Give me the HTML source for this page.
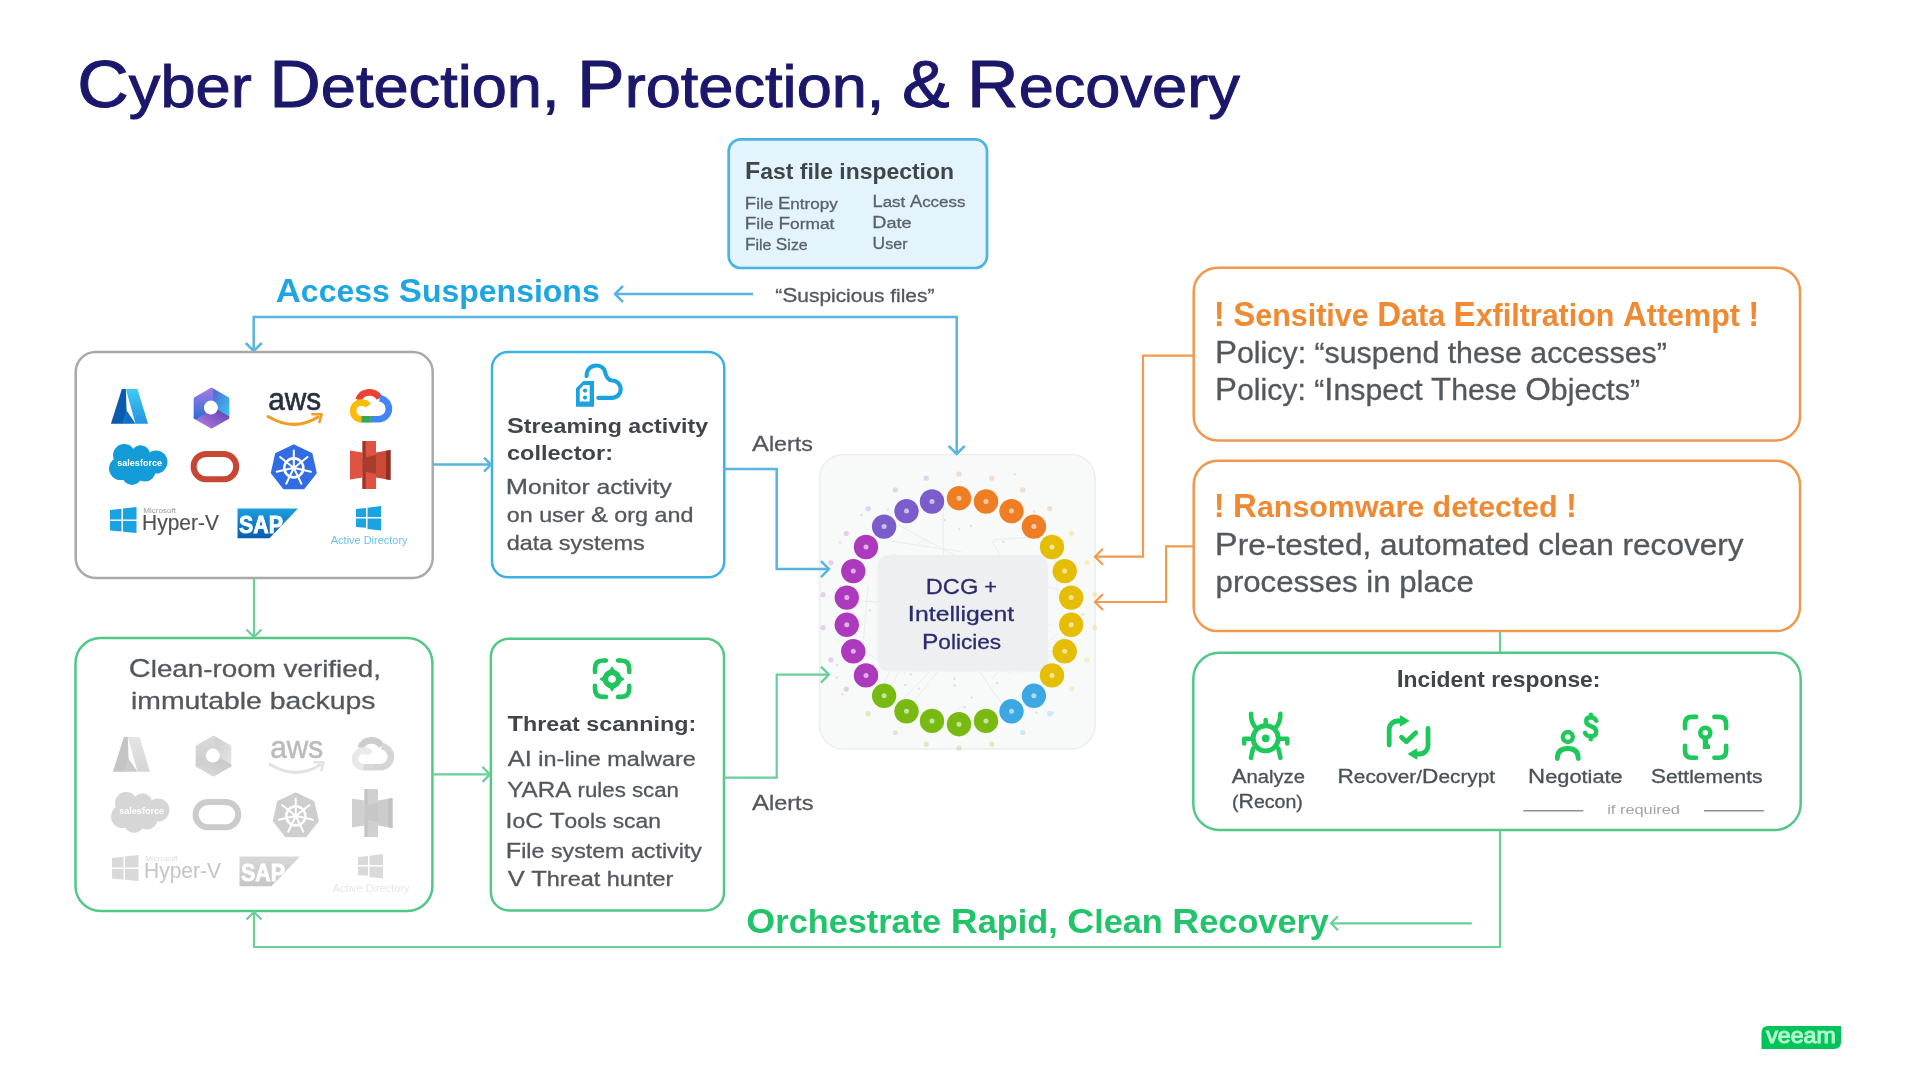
<!DOCTYPE html>
<html><head><meta charset="utf-8"><title>Cyber Detection, Protection, &amp; Recovery</title>
<style>html,body{margin:0;padding:0;background:#ffffff;width:1920px;height:1080px;overflow:hidden}svg{display:block;will-change:transform}text{font-family:"Liberation Sans",sans-serif}</style></head>
<body><svg width="1920" height="1080" viewBox="0 0 1920 1080">
<defs>
<linearGradient id="gAz1" x1="0" y1="0" x2="0" y2="1"><stop offset="0" stop-color="#3ccbf4"/><stop offset="1" stop-color="#2892df"/></linearGradient>
<linearGradient id="gM1" x1="0" y1="0" x2="1" y2="1"><stop offset="0" stop-color="#4a63d2"/><stop offset="1" stop-color="#3fc4f0"/></linearGradient>
<linearGradient id="gM2" x1="1" y1="0" x2="0" y2="1"><stop offset="0" stop-color="#5a3fb0"/><stop offset="1" stop-color="#b57be6"/></linearGradient>
<linearGradient id="gM3" x1="0" y1="0" x2="0" y2="1"><stop offset="0" stop-color="#a27ae6"/><stop offset="1" stop-color="#2f6fd8"/></linearGradient>
<linearGradient id="gSAP" x1="0" y1="0" x2="0" y2="1"><stop offset="0" stop-color="#1aa0e2"/><stop offset="1" stop-color="#0b5cae"/></linearGradient>
<filter id="fGray" color-interpolation-filters="sRGB"><feColorMatrix type="saturate" values="0"/></filter>
</defs>
<rect width="1920" height="1080" fill="#ffffff"/>
<text x="77.30" y="107" font-size="66.86" fill="#1b176b" stroke="#1b176b" stroke-width="1.0" textLength="1162.50" lengthAdjust="spacingAndGlyphs"><tspan font-size="66.86">C</tspan><tspan font-size="59.17">yber </tspan><tspan font-size="66.86">D</tspan><tspan font-size="59.17">etection, </tspan><tspan font-size="66.86">P</tspan><tspan font-size="59.17">rotection, </tspan><tspan font-size="66.86">&amp;</tspan><tspan font-size="59.17"> </tspan><tspan font-size="66.86">R</tspan><tspan font-size="59.17">ecovery</tspan></text>
<rect x="819.5" y="454.5" width="275.5" height="294.5" rx="24" fill="#f8f9f9" stroke="#eceeee" stroke-width="1.5"/>
<path d="M913.2,702.7 L963.5,638.1 M896.8,596.9 L888.3,612.4 M1021.8,626.3 L987.9,614.6 M898.5,642.3 L917.0,606.4 M891.1,541.2 L961.1,551.6 M1073.5,594.0 L986.9,570.9 M1008.4,674.2 L1058.2,633.2 M1001.8,703.3 L975.3,666.1 M898.0,592.3 L923.1,630.2 M924.9,538.3 L916.8,545.0 M852.2,643.6 L887.7,665.9 M962.5,705.3 L948.6,718.2 M943.1,488.5 L943.4,583.5 M898.2,645.6 L890.2,614.8 M1065.4,638.0 L1024.9,651.5 M1033.6,537.0 L993.8,539.8 M858.5,556.1 L854.6,564.2 M895.9,621.6 L869.6,599.3 M890.7,520.7 L970.6,564.1 M912.7,651.6 L898.4,637.8 M990.4,666.8 L1049.4,645.9 M1017.7,673.2 L1059.3,648.8 M1042.7,657.6 L1058.1,654.9 M991.9,540.4 L1013.6,582.8 M881.8,706.0 L924.6,618.0 M992.6,678.4 L1014.6,651.3 M907.9,579.2 L897.7,603.0 M875.9,700.5 L891.0,668.7 M855.5,601.1 L934.8,603.5 M1053.3,542.2 L1058.0,598.5 M907.0,653.0 L904.4,674.3 M1027.0,639.2 L992.5,597.5 M926.8,661.9 L967.3,645.3 M1008.5,647.9 L1058.3,652.2 M901.4,561.0 L904.5,606.6 M883.3,698.0 L954.4,730.4 M894.9,625.1 L929.7,618.5 M896.4,706.3 L953.3,646.9 M1052.3,624.8 L979.0,639.5 M868.1,585.9 L860.4,675.8" stroke="#e9ecec" stroke-width="0.9" fill="none"/>
<circle cx="1031.2" cy="527.5" r="1.2" fill="#dfe3e5"/><circle cx="954.3" cy="678.7" r="1.2" fill="#dfe3e5"/><circle cx="1018.9" cy="715.6" r="1.2" fill="#dfe3e5"/><circle cx="840.3" cy="586.5" r="1.2" fill="#dfe3e5"/><circle cx="935.5" cy="654.2" r="1.2" fill="#dfe3e5"/><circle cx="1014.8" cy="474.1" r="1.2" fill="#dfe3e5"/><circle cx="1034.0" cy="511.5" r="1.2" fill="#dfe3e5"/><circle cx="1007.4" cy="505.6" r="1.2" fill="#dfe3e5"/><circle cx="971.7" cy="697.6" r="1.2" fill="#dfe3e5"/><circle cx="944.4" cy="629.9" r="1.2" fill="#dfe3e5"/><circle cx="1014.5" cy="621.0" r="1.2" fill="#dfe3e5"/><circle cx="952.7" cy="721.0" r="1.2" fill="#dfe3e5"/><circle cx="1034.2" cy="590.1" r="1.2" fill="#dfe3e5"/><circle cx="1023.7" cy="592.4" r="1.2" fill="#dfe3e5"/><circle cx="968.1" cy="659.8" r="1.2" fill="#dfe3e5"/><circle cx="974.3" cy="655.2" r="1.2" fill="#dfe3e5"/><circle cx="861.5" cy="514.9" r="1.2" fill="#dfe3e5"/><circle cx="1003.3" cy="541.8" r="1.2" fill="#dfe3e5"/><circle cx="888.0" cy="509.6" r="1.2" fill="#dfe3e5"/><circle cx="1050.2" cy="665.0" r="1.2" fill="#dfe3e5"/><circle cx="1061.7" cy="545.8" r="1.2" fill="#dfe3e5"/><circle cx="959.1" cy="529.1" r="1.2" fill="#dfe3e5"/><circle cx="1012.2" cy="721.6" r="1.2" fill="#dfe3e5"/><circle cx="897.5" cy="719.0" r="1.2" fill="#dfe3e5"/><circle cx="1029.3" cy="598.5" r="1.2" fill="#dfe3e5"/><circle cx="842.5" cy="694.3" r="1.2" fill="#dfe3e5"/><circle cx="952.4" cy="569.6" r="1.2" fill="#dfe3e5"/><circle cx="986.7" cy="639.6" r="1.2" fill="#dfe3e5"/><circle cx="1062.2" cy="540.9" r="1.2" fill="#dfe3e5"/><circle cx="1036.4" cy="712.5" r="1.2" fill="#dfe3e5"/><circle cx="1063.6" cy="598.2" r="1.2" fill="#dfe3e5"/><circle cx="905.1" cy="684.9" r="1.2" fill="#dfe3e5"/><circle cx="973.9" cy="627.2" r="1.2" fill="#dfe3e5"/><circle cx="1061.7" cy="592.2" r="1.2" fill="#dfe3e5"/><circle cx="837.0" cy="665.1" r="1.2" fill="#dfe3e5"/><circle cx="980.8" cy="569.1" r="1.2" fill="#dfe3e5"/><circle cx="958.3" cy="669.3" r="1.2" fill="#dfe3e5"/><circle cx="964.7" cy="707.3" r="1.2" fill="#dfe3e5"/><circle cx="954.6" cy="685.5" r="1.2" fill="#dfe3e5"/><circle cx="1053.0" cy="712.7" r="1.2" fill="#dfe3e5"/><circle cx="910.7" cy="674.4" r="1.2" fill="#dfe3e5"/><circle cx="839.9" cy="542.4" r="1.2" fill="#dfe3e5"/><circle cx="836.7" cy="677.8" r="1.2" fill="#dfe3e5"/><circle cx="869.9" cy="610.3" r="1.2" fill="#dfe3e5"/><circle cx="936.8" cy="607.9" r="1.2" fill="#dfe3e5"/><circle cx="918.3" cy="627.3" r="1.2" fill="#dfe3e5"/><circle cx="1082.9" cy="614.3" r="1.2" fill="#dfe3e5"/><circle cx="997.2" cy="683.2" r="1.2" fill="#dfe3e5"/><circle cx="944.7" cy="520.0" r="1.2" fill="#dfe3e5"/><circle cx="918.8" cy="688.8" r="1.2" fill="#dfe3e5"/><circle cx="844.4" cy="569.6" r="1.2" fill="#dfe3e5"/><circle cx="1032.0" cy="668.6" r="1.2" fill="#dfe3e5"/><circle cx="959.5" cy="667.2" r="1.2" fill="#dfe3e5"/><circle cx="971.0" cy="526.0" r="1.2" fill="#dfe3e5"/><circle cx="849.0" cy="566.3" r="1.2" fill="#dfe3e5"/><circle cx="1025.2" cy="570.6" r="1.2" fill="#dfe3e5"/><circle cx="893.8" cy="555.5" r="1.2" fill="#dfe3e5"/><circle cx="849.3" cy="602.8" r="1.2" fill="#dfe3e5"/>
<rect x="877.5" y="555" width="170.5" height="116.5" rx="11" fill="#eeeff1"/>
<circle cx="959.0" cy="474.2" r="2.6" fill="#ee7d24" opacity="0.22"/>
<circle cx="959.0" cy="498.2" r="12.2" fill="#ee7d24"/>
<circle cx="959.0" cy="498.2" r="2.5" fill="#fff" opacity="0.6"/>
<circle cx="991.8" cy="478.2" r="2.6" fill="#ee7d24" opacity="0.22"/>
<circle cx="986.0" cy="501.5" r="12.2" fill="#ee7d24"/>
<circle cx="986.0" cy="501.5" r="2.5" fill="#fff" opacity="0.6"/>
<circle cx="1022.7" cy="489.9" r="2.6" fill="#ee7d24" opacity="0.22"/>
<circle cx="1011.5" cy="511.1" r="12.2" fill="#ee7d24"/>
<circle cx="1011.5" cy="511.1" r="2.5" fill="#fff" opacity="0.6"/>
<circle cx="1049.8" cy="508.7" r="2.6" fill="#ee7d24" opacity="0.22"/>
<circle cx="1033.9" cy="526.6" r="12.2" fill="#ee7d24"/>
<circle cx="1033.9" cy="526.6" r="2.5" fill="#fff" opacity="0.6"/>
<circle cx="1071.7" cy="533.4" r="2.6" fill="#e6bd05" opacity="0.22"/>
<circle cx="1052.0" cy="547.0" r="12.2" fill="#e6bd05"/>
<circle cx="1052.0" cy="547.0" r="2.5" fill="#fff" opacity="0.6"/>
<circle cx="1087.1" cy="562.6" r="2.6" fill="#e6bd05" opacity="0.22"/>
<circle cx="1064.7" cy="571.1" r="12.2" fill="#e6bd05"/>
<circle cx="1064.7" cy="571.1" r="2.5" fill="#fff" opacity="0.6"/>
<circle cx="1095.0" cy="594.7" r="2.6" fill="#e6bd05" opacity="0.22"/>
<circle cx="1071.2" cy="597.6" r="12.2" fill="#e6bd05"/>
<circle cx="1071.2" cy="597.6" r="2.5" fill="#fff" opacity="0.6"/>
<circle cx="1095.0" cy="627.7" r="2.6" fill="#e6bd05" opacity="0.22"/>
<circle cx="1071.2" cy="624.8" r="12.2" fill="#e6bd05"/>
<circle cx="1071.2" cy="624.8" r="2.5" fill="#fff" opacity="0.6"/>
<circle cx="1087.1" cy="659.8" r="2.6" fill="#e6bd05" opacity="0.22"/>
<circle cx="1064.7" cy="651.3" r="12.2" fill="#e6bd05"/>
<circle cx="1064.7" cy="651.3" r="2.5" fill="#fff" opacity="0.6"/>
<circle cx="1071.7" cy="689.0" r="2.6" fill="#e6bd05" opacity="0.22"/>
<circle cx="1052.0" cy="675.4" r="12.2" fill="#e6bd05"/>
<circle cx="1052.0" cy="675.4" r="2.5" fill="#fff" opacity="0.6"/>
<circle cx="1049.8" cy="713.7" r="2.6" fill="#3ba8e3" opacity="0.22"/>
<circle cx="1033.9" cy="695.8" r="12.2" fill="#3ba8e3"/>
<circle cx="1033.9" cy="695.8" r="2.5" fill="#fff" opacity="0.6"/>
<circle cx="1022.7" cy="732.5" r="2.6" fill="#3ba8e3" opacity="0.22"/>
<circle cx="1011.5" cy="711.3" r="12.2" fill="#3ba8e3"/>
<circle cx="1011.5" cy="711.3" r="2.5" fill="#fff" opacity="0.6"/>
<circle cx="991.8" cy="744.2" r="2.6" fill="#78ba12" opacity="0.22"/>
<circle cx="986.0" cy="720.9" r="12.2" fill="#78ba12"/>
<circle cx="986.0" cy="720.9" r="2.5" fill="#fff" opacity="0.6"/>
<circle cx="959.0" cy="748.2" r="2.6" fill="#78ba12" opacity="0.22"/>
<circle cx="959.0" cy="724.2" r="12.2" fill="#78ba12"/>
<circle cx="959.0" cy="724.2" r="2.5" fill="#fff" opacity="0.6"/>
<circle cx="926.2" cy="744.2" r="2.6" fill="#78ba12" opacity="0.22"/>
<circle cx="932.0" cy="720.9" r="12.2" fill="#78ba12"/>
<circle cx="932.0" cy="720.9" r="2.5" fill="#fff" opacity="0.6"/>
<circle cx="895.3" cy="732.5" r="2.6" fill="#78ba12" opacity="0.22"/>
<circle cx="906.5" cy="711.3" r="12.2" fill="#78ba12"/>
<circle cx="906.5" cy="711.3" r="2.5" fill="#fff" opacity="0.6"/>
<circle cx="868.2" cy="713.7" r="2.6" fill="#78ba12" opacity="0.22"/>
<circle cx="884.1" cy="695.8" r="12.2" fill="#78ba12"/>
<circle cx="884.1" cy="695.8" r="2.5" fill="#fff" opacity="0.6"/>
<circle cx="846.3" cy="689.0" r="2.6" fill="#ad3abd" opacity="0.22"/>
<circle cx="866.0" cy="675.4" r="12.2" fill="#ad3abd"/>
<circle cx="866.0" cy="675.4" r="2.5" fill="#fff" opacity="0.6"/>
<circle cx="830.9" cy="659.8" r="2.6" fill="#ad3abd" opacity="0.22"/>
<circle cx="853.3" cy="651.3" r="12.2" fill="#ad3abd"/>
<circle cx="853.3" cy="651.3" r="2.5" fill="#fff" opacity="0.6"/>
<circle cx="823.0" cy="627.7" r="2.6" fill="#ad3abd" opacity="0.22"/>
<circle cx="846.8" cy="624.8" r="12.2" fill="#ad3abd"/>
<circle cx="846.8" cy="624.8" r="2.5" fill="#fff" opacity="0.6"/>
<circle cx="823.0" cy="594.7" r="2.6" fill="#ad3abd" opacity="0.22"/>
<circle cx="846.8" cy="597.6" r="12.2" fill="#ad3abd"/>
<circle cx="846.8" cy="597.6" r="2.5" fill="#fff" opacity="0.6"/>
<circle cx="830.9" cy="562.6" r="2.6" fill="#ad3abd" opacity="0.22"/>
<circle cx="853.3" cy="571.1" r="12.2" fill="#ad3abd"/>
<circle cx="853.3" cy="571.1" r="2.5" fill="#fff" opacity="0.6"/>
<circle cx="846.3" cy="533.4" r="2.6" fill="#ad3abd" opacity="0.22"/>
<circle cx="866.0" cy="547.0" r="12.2" fill="#ad3abd"/>
<circle cx="866.0" cy="547.0" r="2.5" fill="#fff" opacity="0.6"/>
<circle cx="868.2" cy="508.7" r="2.6" fill="#7a5ccb" opacity="0.22"/>
<circle cx="884.1" cy="526.6" r="12.2" fill="#7a5ccb"/>
<circle cx="884.1" cy="526.6" r="2.5" fill="#fff" opacity="0.6"/>
<circle cx="895.3" cy="489.9" r="2.6" fill="#7a5ccb" opacity="0.22"/>
<circle cx="906.5" cy="511.1" r="12.2" fill="#7a5ccb"/>
<circle cx="906.5" cy="511.1" r="2.5" fill="#fff" opacity="0.6"/>
<circle cx="926.2" cy="478.2" r="2.6" fill="#7a5ccb" opacity="0.22"/>
<circle cx="932.0" cy="501.5" r="12.2" fill="#7a5ccb"/>
<circle cx="932.0" cy="501.5" r="2.5" fill="#fff" opacity="0.6"/>
<text x="925.71" y="593.50" font-size="22.97" font-weight="400" fill="#2b2c6c" textLength="71.36" lengthAdjust="spacingAndGlyphs" stroke="#2b2c6c" stroke-width="0.3"><tspan font-size="22.97">DCG</tspan><tspan font-size="21.13"> +</tspan></text>
<text x="907.58" y="621.25" font-size="22.97" font-weight="400" fill="#2b2c6c" textLength="106.46" lengthAdjust="spacingAndGlyphs" stroke="#2b2c6c" stroke-width="0.3"><tspan font-size="22.97">I</tspan><tspan font-size="21.13">ntelligent</tspan></text>
<text x="921.93" y="649.00" font-size="22.97" font-weight="400" fill="#2b2c6c" textLength="79.19" lengthAdjust="spacingAndGlyphs" stroke="#2b2c6c" stroke-width="0.3"><tspan font-size="22.97">P</tspan><tspan font-size="21.13">olicies</tspan></text>
<rect x="728.7" y="139.3" width="258.3" height="128.7" rx="12" fill="#e3f4fc" stroke="#4ab5e2" stroke-width="2.7"/>
<text x="745.08" y="179.00" font-size="23.26" font-weight="700" fill="#3f454b" textLength="208.83" lengthAdjust="spacingAndGlyphs" ><tspan font-size="23.26">F</tspan><tspan font-size="21.40">ast file inspection</tspan></text>
<text x="744.82" y="209.10" font-size="16.86" font-weight="400" fill="#59626a" textLength="93.00" lengthAdjust="spacingAndGlyphs"  stroke="#59626a" stroke-width="0.3"><tspan font-size="16.86">F</tspan><tspan font-size="15.51">ile </tspan><tspan font-size="16.86">E</tspan><tspan font-size="15.51">ntropy</tspan></text>
<text x="744.79" y="229.40" font-size="16.86" font-weight="400" fill="#59626a" textLength="89.59" lengthAdjust="spacingAndGlyphs"  stroke="#59626a" stroke-width="0.3"><tspan font-size="16.86">F</tspan><tspan font-size="15.51">ile </tspan><tspan font-size="16.86">F</tspan><tspan font-size="15.51">ormat</tspan></text>
<text x="744.92" y="250.10" font-size="16.86" font-weight="400" fill="#59626a" textLength="62.77" lengthAdjust="spacingAndGlyphs"  stroke="#59626a" stroke-width="0.3"><tspan font-size="16.86">F</tspan><tspan font-size="15.51">ile </tspan><tspan font-size="16.86">S</tspan><tspan font-size="15.51">ize</tspan></text>
<text x="872.43" y="207.40" font-size="16.86" font-weight="400" fill="#59626a" textLength="92.97" lengthAdjust="spacingAndGlyphs"  stroke="#59626a" stroke-width="0.3"><tspan font-size="16.86">L</tspan><tspan font-size="15.51">ast </tspan><tspan font-size="16.86">A</tspan><tspan font-size="15.51">ccess</tspan></text>
<text x="872.33" y="228.10" font-size="16.86" font-weight="400" fill="#59626a" textLength="39.28" lengthAdjust="spacingAndGlyphs"  stroke="#59626a" stroke-width="0.3"><tspan font-size="16.86">D</tspan><tspan font-size="15.51">ate</tspan></text>
<text x="872.59" y="248.70" font-size="16.86" font-weight="400" fill="#59626a" textLength="34.98" lengthAdjust="spacingAndGlyphs"  stroke="#59626a" stroke-width="0.3"><tspan font-size="16.86">U</tspan><tspan font-size="15.51">ser</tspan></text>
<text x="775.20" y="302.00" font-size="20.35" font-weight="400" fill="#53585d" textLength="159.22" lengthAdjust="spacingAndGlyphs"  stroke="#53585d" stroke-width="0.3"><tspan font-size="18.72">“</tspan><tspan font-size="20.35">S</tspan><tspan font-size="18.72">uspicious files”</tspan></text>
<text x="275.73" y="301.60" font-size="34.01" font-weight="700" fill="#1fa6e2" textLength="323.99" lengthAdjust="spacingAndGlyphs" ><tspan font-size="34.01">A</tspan><tspan font-size="31.29">ccess </tspan><tspan font-size="34.01">S</tspan><tspan font-size="31.29">uspensions</tspan></text>
<polyline points="753.0,294.0 615.0,294.0" fill="none" stroke="#58b5e0" stroke-width="2.5"/>
<polyline points="623.0,286.0 615.0,294.0 623.0,302.0" fill="none" stroke="#58b5e0" stroke-width="2.5" stroke-linejoin="miter"/>
<polyline points="253.7,350.0 253.7,317.0 956.7,317.0 956.7,453.0" fill="none" stroke="#58b5e0" stroke-width="2.5"/>
<polyline points="245.7,343.0 253.7,351.0 261.7,343.0" fill="none" stroke="#58b5e0" stroke-width="2.5" stroke-linejoin="miter"/>
<polyline points="948.7,446.0 956.7,454.0 964.7,446.0" fill="none" stroke="#58b5e0" stroke-width="2.5" stroke-linejoin="miter"/>
<rect x="75.7" y="352.0" width="357.0" height="226.0" rx="20" fill="#fff" stroke="#a9a9a9" stroke-width="2.5"/>
<polygon points="125.8,389 137.5,389 148,423.8 135.5,423.8" fill="url(#gAz1)"/>
<polygon points="121.9,389 125.8,389 126.6,411 122.7,423.8 110.9,423.8" fill="#0a5aad"/>
<polygon points="126.6,410.5 135.5,423.8 121.8,423.8" fill="#0f6fc6"/>
<polygon points="211.5,408.1 211.5,389.5 227.6,398.8 227.6,417.4" fill="url(#gM1)" stroke="url(#gM1)" stroke-width="3.5" stroke-linejoin="round"/>
<polygon points="211.5,408.1 227.6,417.4 211.5,426.7 195.4,417.4" fill="url(#gM2)" stroke="url(#gM2)" stroke-width="3.5" stroke-linejoin="round"/>
<polygon points="211.5,408.1 195.4,417.4 195.4,398.8 211.5,389.5" fill="url(#gM3)" stroke="url(#gM3)" stroke-width="3.5" stroke-linejoin="round"/>
<circle cx="210.9" cy="407.6" r="7" fill="#fff"/>
<text x="268.21" y="409.70" font-size="32.20" font-weight="400" fill="#252f3e" textLength="52.99" lengthAdjust="spacingAndGlyphs" stroke="#252f3e" stroke-width="0.6">aws</text>
<path d="M268,416.5 Q294,432 318,417" fill="none" stroke="#f39c1f" stroke-width="3" stroke-linecap="round"/>
<path d="M312.5,414.3 L321.5,414.3 L319.5,422" fill="none" stroke="#f39c1f" stroke-width="2.6" stroke-linecap="round" stroke-linejoin="round"/>
<path d="M358.5,400 A11.7,11.7 0 0 1 379.6,398.2" fill="none" stroke="#ea4335" stroke-width="6.6"/>
<path d="M379.6,398.2 A10.6,10.6 0 0 1 379,419.3 L370.5,419.3" fill="none" stroke="#4285f4" stroke-width="6.6"/>
<path d="M370.8,419.3 L361,419.3" fill="none" stroke="#34a853" stroke-width="6.6"/>
<path d="M361.5,419.3 A8.4,8.4 0 0 1 361.5,402.5 Q366,402.5 368.3,405.6" fill="none" stroke="#fbbc05" stroke-width="6.6"/>
<circle cx="124.2" cy="455.3" r="11.2" fill="#139cd8"/>
<circle cx="140.6" cy="454.8" r="9.5" fill="#139cd8"/>
<circle cx="156" cy="462" r="11.5" fill="#139cd8"/>
<circle cx="120.5" cy="468.6" r="11.5" fill="#139cd8"/>
<circle cx="132" cy="475" r="10" fill="#139cd8"/>
<circle cx="145" cy="471" r="10.5" fill="#139cd8"/>
<circle cx="136" cy="464" r="12" fill="#139cd8"/>
<text x="117.28" y="466.20" font-size="9.59" font-weight="700" fill="#ffffff" textLength="44.76" lengthAdjust="spacingAndGlyphs" >salesforce</text>
<rect x="193.6" y="454" width="42.6" height="25.3" rx="12.6" fill="none" stroke="#c74634" stroke-width="6"/>
<polygon points="293.8,445.3 311.5,453.8 315.8,472.9 303.6,488.3 284.0,488.3 271.8,472.9 276.1,453.8" fill="#326ce5" stroke="#326ce5" stroke-width="2" stroke-linejoin="round"/>
<circle cx="293.8" cy="467.9" r="9.5" fill="none" stroke="#fff" stroke-width="2.6"/>
<path d="M293.8,465.9 L293.8,450.4 M295.4,466.7 L307.5,457.0 M295.7,468.3 L310.9,471.8 M294.7,469.7 L301.4,483.7 M292.9,469.7 L286.2,483.7 M291.9,468.3 L276.7,471.8 M292.2,466.7 L280.1,457.0" stroke="#fff" stroke-width="2" stroke-linecap="round"/>
<circle cx="293.8" cy="467.9" r="2.2" fill="#fff"/>
<polygon points="350,450.5 362.5,452.5 362.5,477.5 350,479.5" fill="#e05243"/>
<rect x="362.5" y="441" width="13.5" height="48" fill="#e05243"/>
<rect x="362.5" y="441" width="3.2" height="48" fill="#9b3829"/>
<polygon points="362.5,458 376,455 376,474 362.5,471" fill="#a83d2d"/>
<polygon points="376,452.5 390.5,450 390.5,480 376,477.5" fill="#cc4a36"/>
<polygon points="386,450.7 390.5,450 390.5,480 386,479.3" fill="#8c3123"/>
<polygon points="110,510 121.5,508.8 121.5,519.5 110,519.5" fill="#1aa3e3"/>
<polygon points="123,508.6 136.5,507 136.5,519.5 123,519.5" fill="#1aa3e3"/>
<polygon points="110,521 121.5,521 121.5,531.6 110,530.5" fill="#1aa3e3"/>
<polygon points="123,521 136.5,521 136.5,533 123,531.8" fill="#1aa3e3"/>
<text x="143.15" y="513.20" font-size="6.54" font-weight="400" fill="#9a9a9a" textLength="32.90" lengthAdjust="spacingAndGlyphs" >Microsoft</text>
<text x="142.12" y="530.40" font-size="21.80" font-weight="400" fill="#505050" textLength="76.84" lengthAdjust="spacingAndGlyphs"  stroke="#505050" stroke-width="0.15">Hyper-V</text>
<polygon points="237.5,508.5 298,508.5 269.5,538.2 237.5,538.2" fill="url(#gSAP)"/>
<text x="238.96" y="532.50" font-size="23.26" font-weight="700" fill="#ffffff" textLength="44.01" lengthAdjust="spacingAndGlyphs" stroke="#ffffff" stroke-width="0.8">SAP</text>
<polygon points="356,509 366,508 366,517 356,517" fill="#1aa3e3"/>
<polygon points="367.5,507.7 381,506 381,517 367.5,517" fill="#1aa3e3"/>
<polygon points="356,518.6 366,518.6 366,527.7 356,527" fill="#1aa3e3"/>
<polygon points="367.5,518.6 381,518.6 381,530.6 367.5,528.9" fill="#1aa3e3"/>
<text x="330.80" y="544.00" font-size="10.47" font-weight="400" fill="#6cc3ea" textLength="76.72" lengthAdjust="spacingAndGlyphs" >Active Directory</text>
<rect x="492.0" y="352.0" width="232.3" height="225.3" rx="16" fill="#fff" stroke="#3cb1e5" stroke-width="2.5"/>
<path d="M576,388.3 L583.3,381.1 L594,381.1 L594,406.8 L576,406.8 Z M579.7,389.5 L583.8,385 L589.7,385 L589.7,401.4 L579.7,401.4 Z" fill="#1aa3e0" fill-rule="evenodd"/>
<circle cx="585" cy="390.6" r="2.1" fill="#1aa3e0"/><circle cx="585" cy="397.6" r="2.1" fill="#1aa3e0"/>
<path d="M586.6,376 A9.8,9.8 0 0 1 604.4,369.7 Q606.5,380.5 612,380.5 A8.65,8.65 0 0 1 612,397.8 L598.3,397.8" fill="none" stroke="#1aa3e0" stroke-width="4.2" stroke-linecap="round" stroke-linejoin="round"/>
<text x="507.04" y="432.60" font-size="22.09" font-weight="700" fill="#3f454b" textLength="201.17" lengthAdjust="spacingAndGlyphs" ><tspan font-size="22.09">S</tspan><tspan font-size="20.33">treaming activity</tspan></text>
<text x="506.90" y="460.40" font-size="22.09" font-weight="700" fill="#3f454b" textLength="106.10" lengthAdjust="spacingAndGlyphs" ><tspan font-size="20.33">collector:</tspan></text>
<text x="505.66" y="494.00" font-size="22.09" font-weight="400" fill="#53585d" textLength="166.09" lengthAdjust="spacingAndGlyphs"  stroke="#53585d" stroke-width="0.3"><tspan font-size="22.09">M</tspan><tspan font-size="20.33">onitor activity</tspan></text>
<text x="506.79" y="521.70" font-size="22.09" font-weight="400" fill="#53585d" textLength="186.56" lengthAdjust="spacingAndGlyphs"  stroke="#53585d" stroke-width="0.3"><tspan font-size="20.33">on user </tspan><tspan font-size="22.09">&amp;</tspan><tspan font-size="20.33"> org and</tspan></text>
<text x="506.78" y="549.50" font-size="22.09" font-weight="400" fill="#53585d" textLength="138.01" lengthAdjust="spacingAndGlyphs"  stroke="#53585d" stroke-width="0.3"><tspan font-size="20.33">data systems</tspan></text>
<polyline points="432.7,464.6 491.0,464.6" fill="none" stroke="#58b5e0" stroke-width="2.5"/>
<polyline points="484.0,457.6 491.0,464.6 484.0,471.6" fill="none" stroke="#58b5e0" stroke-width="2.5" stroke-linejoin="miter"/>
<polyline points="724.3,469.0 776.7,469.0 776.7,569.1 828.0,569.1" fill="none" stroke="#58b5e0" stroke-width="2.5"/>
<polyline points="821.0,561.1 829.0,569.1 821.0,577.1" fill="none" stroke="#58b5e0" stroke-width="2.5" stroke-linejoin="miter"/>
<text x="752.00" y="451.00" font-size="21.80" font-weight="400" fill="#53585d" textLength="60.89" lengthAdjust="spacingAndGlyphs"  stroke="#53585d" stroke-width="0.3"><tspan font-size="21.80">A</tspan><tspan font-size="20.06">lerts</tspan></text>
<rect x="75.5" y="638.0" width="356.9" height="272.9" rx="25" fill="#fff" stroke="#52c886" stroke-width="2.5"/>
<polyline points="254.0,578.5 254.0,636.5" fill="none" stroke="#6acf97" stroke-width="2.2"/>
<polyline points="246.5,629.5 254.0,637.0 261.5,629.5" fill="none" stroke="#6acf97" stroke-width="2.2" stroke-linejoin="miter"/>
<text x="128.89" y="676.80" font-size="26.16" font-weight="400" fill="#53585d" textLength="252.06" lengthAdjust="spacingAndGlyphs"  stroke="#53585d" stroke-width="0.3"><tspan font-size="26.16">C</tspan><tspan font-size="24.07">lean-room verified,</tspan></text>
<text x="131.05" y="708.50" font-size="26.16" font-weight="400" fill="#53585d" textLength="244.36" lengthAdjust="spacingAndGlyphs"  stroke="#53585d" stroke-width="0.3"><tspan font-size="24.07">immutable backups</tspan></text>
<g transform="translate(2,348)" filter="url(#fGray)" opacity="0.32"><polygon points="125.8,389 137.5,389 148,423.8 135.5,423.8" fill="url(#gAz1)"/>
<polygon points="121.9,389 125.8,389 126.6,411 122.7,423.8 110.9,423.8" fill="#0a5aad"/>
<polygon points="126.6,410.5 135.5,423.8 121.8,423.8" fill="#0f6fc6"/>
<polygon points="211.5,408.1 211.5,389.5 227.6,398.8 227.6,417.4" fill="url(#gM1)" stroke="url(#gM1)" stroke-width="3.5" stroke-linejoin="round"/>
<polygon points="211.5,408.1 227.6,417.4 211.5,426.7 195.4,417.4" fill="url(#gM2)" stroke="url(#gM2)" stroke-width="3.5" stroke-linejoin="round"/>
<polygon points="211.5,408.1 195.4,417.4 195.4,398.8 211.5,389.5" fill="url(#gM3)" stroke="url(#gM3)" stroke-width="3.5" stroke-linejoin="round"/>
<circle cx="210.9" cy="407.6" r="7" fill="#fff"/>
<text x="268.21" y="409.70" font-size="32.20" font-weight="400" fill="#252f3e" textLength="52.99" lengthAdjust="spacingAndGlyphs" stroke="#252f3e" stroke-width="0.6">aws</text>
<path d="M268,416.5 Q294,432 318,417" fill="none" stroke="#f39c1f" stroke-width="3" stroke-linecap="round"/>
<path d="M312.5,414.3 L321.5,414.3 L319.5,422" fill="none" stroke="#f39c1f" stroke-width="2.6" stroke-linecap="round" stroke-linejoin="round"/>
<path d="M358.5,400 A11.7,11.7 0 0 1 379.6,398.2" fill="none" stroke="#ea4335" stroke-width="6.6"/>
<path d="M379.6,398.2 A10.6,10.6 0 0 1 379,419.3 L370.5,419.3" fill="none" stroke="#4285f4" stroke-width="6.6"/>
<path d="M370.8,419.3 L361,419.3" fill="none" stroke="#34a853" stroke-width="6.6"/>
<path d="M361.5,419.3 A8.4,8.4 0 0 1 361.5,402.5 Q366,402.5 368.3,405.6" fill="none" stroke="#fbbc05" stroke-width="6.6"/>
<circle cx="124.2" cy="455.3" r="11.2" fill="#139cd8"/>
<circle cx="140.6" cy="454.8" r="9.5" fill="#139cd8"/>
<circle cx="156" cy="462" r="11.5" fill="#139cd8"/>
<circle cx="120.5" cy="468.6" r="11.5" fill="#139cd8"/>
<circle cx="132" cy="475" r="10" fill="#139cd8"/>
<circle cx="145" cy="471" r="10.5" fill="#139cd8"/>
<circle cx="136" cy="464" r="12" fill="#139cd8"/>
<text x="117.28" y="466.20" font-size="9.59" font-weight="700" fill="#ffffff" textLength="44.76" lengthAdjust="spacingAndGlyphs" >salesforce</text>
<rect x="193.6" y="454" width="42.6" height="25.3" rx="12.6" fill="none" stroke="#c74634" stroke-width="6"/>
<polygon points="293.8,445.3 311.5,453.8 315.8,472.9 303.6,488.3 284.0,488.3 271.8,472.9 276.1,453.8" fill="#326ce5" stroke="#326ce5" stroke-width="2" stroke-linejoin="round"/>
<circle cx="293.8" cy="467.9" r="9.5" fill="none" stroke="#fff" stroke-width="2.6"/>
<path d="M293.8,465.9 L293.8,450.4 M295.4,466.7 L307.5,457.0 M295.7,468.3 L310.9,471.8 M294.7,469.7 L301.4,483.7 M292.9,469.7 L286.2,483.7 M291.9,468.3 L276.7,471.8 M292.2,466.7 L280.1,457.0" stroke="#fff" stroke-width="2" stroke-linecap="round"/>
<circle cx="293.8" cy="467.9" r="2.2" fill="#fff"/>
<polygon points="350,450.5 362.5,452.5 362.5,477.5 350,479.5" fill="#e05243"/>
<rect x="362.5" y="441" width="13.5" height="48" fill="#e05243"/>
<rect x="362.5" y="441" width="3.2" height="48" fill="#9b3829"/>
<polygon points="362.5,458 376,455 376,474 362.5,471" fill="#a83d2d"/>
<polygon points="376,452.5 390.5,450 390.5,480 376,477.5" fill="#cc4a36"/>
<polygon points="386,450.7 390.5,450 390.5,480 386,479.3" fill="#8c3123"/>
<polygon points="110,510 121.5,508.8 121.5,519.5 110,519.5" fill="#1aa3e3"/>
<polygon points="123,508.6 136.5,507 136.5,519.5 123,519.5" fill="#1aa3e3"/>
<polygon points="110,521 121.5,521 121.5,531.6 110,530.5" fill="#1aa3e3"/>
<polygon points="123,521 136.5,521 136.5,533 123,531.8" fill="#1aa3e3"/>
<text x="143.15" y="513.20" font-size="6.54" font-weight="400" fill="#9a9a9a" textLength="32.90" lengthAdjust="spacingAndGlyphs" >Microsoft</text>
<text x="142.12" y="530.40" font-size="21.80" font-weight="400" fill="#505050" textLength="76.84" lengthAdjust="spacingAndGlyphs"  stroke="#505050" stroke-width="0.15">Hyper-V</text>
<polygon points="237.5,508.5 298,508.5 269.5,538.2 237.5,538.2" fill="url(#gSAP)"/>
<text x="238.96" y="532.50" font-size="23.26" font-weight="700" fill="#ffffff" textLength="44.01" lengthAdjust="spacingAndGlyphs" stroke="#ffffff" stroke-width="0.8">SAP</text>
<polygon points="356,509 366,508 366,517 356,517" fill="#1aa3e3"/>
<polygon points="367.5,507.7 381,506 381,517 367.5,517" fill="#1aa3e3"/>
<polygon points="356,518.6 366,518.6 366,527.7 356,527" fill="#1aa3e3"/>
<polygon points="367.5,518.6 381,518.6 381,530.6 367.5,528.9" fill="#1aa3e3"/>
<text x="330.80" y="544.00" font-size="10.47" font-weight="400" fill="#6cc3ea" textLength="76.72" lengthAdjust="spacingAndGlyphs" >Active Directory</text></g>
<rect x="490.9" y="638.7" width="233.1" height="271.8" rx="18" fill="#fff" stroke="#52c886" stroke-width="2.5"/>
<polyline points="432.4,774.4 489.5,774.4" fill="none" stroke="#6acf97" stroke-width="2.2"/>
<polyline points="482.5,766.9 490.0,774.4 482.5,781.9" fill="none" stroke="#6acf97" stroke-width="2.2" stroke-linejoin="miter"/>
<polyline points="724.0,777.6 776.7,777.6 776.7,674.6 828.0,674.6" fill="none" stroke="#6acf97" stroke-width="2.2"/>
<polyline points="821.0,666.6 829.0,674.6 821.0,682.6" fill="none" stroke="#6acf97" stroke-width="2.2" stroke-linejoin="miter"/>
<path d="M595,671.9 L595,668.5 Q595,660.5 603,660.5 L605.9,660.5 M618.1,660.5 L621,660.5 Q629.2,660.5 629.2,668.5 L629.2,671.9 M629.2,685.8 L629.2,689 Q629.2,696.9 621,696.9 L618.1,696.9 M605.9,696.9 L603,696.9 Q595,696.9 595,689 L595,685.8" fill="none" stroke="#1fc45e" stroke-width="4.6" stroke-linecap="round"/>
<circle cx="612" cy="679" r="6.6" fill="none" stroke="#1fc45e" stroke-width="5.6"/><path d="M612,667.2 L614.8,671.5 L609.2,671.5 Z M623.8,679 L619.5,681.8 L619.5,676.2 Z M612,690.8 L609.2,686.5 L614.8,686.5 Z M600.2,679 L604.5,676.2 L604.5,681.8 Z" fill="#1fc45e" stroke="#1fc45e" stroke-width="1.2" stroke-linejoin="round"/>
<text x="507.55" y="730.50" font-size="22.97" font-weight="700" fill="#3f454b" textLength="188.63" lengthAdjust="spacingAndGlyphs" ><tspan font-size="22.97">T</tspan><tspan font-size="21.13">hreat scanning:</tspan></text>
<text x="507.80" y="766.40" font-size="22.38" font-weight="400" fill="#53585d" textLength="188.07" lengthAdjust="spacingAndGlyphs"  stroke="#53585d" stroke-width="0.3"><tspan font-size="22.38">AI</tspan><tspan font-size="20.59"> in-line malware</tspan></text>
<text x="507.19" y="797.40" font-size="22.38" font-weight="400" fill="#53585d" textLength="171.82" lengthAdjust="spacingAndGlyphs"  stroke="#53585d" stroke-width="0.3"><tspan font-size="22.38">YARA</tspan><tspan font-size="20.59"> rules scan</tspan></text>
<text x="505.57" y="828.00" font-size="22.38" font-weight="400" fill="#53585d" textLength="155.31" lengthAdjust="spacingAndGlyphs"  stroke="#53585d" stroke-width="0.3"><tspan font-size="22.38">I</tspan><tspan font-size="20.59">o</tspan><tspan font-size="22.38">C</tspan><tspan font-size="20.59"> </tspan><tspan font-size="22.38">T</tspan><tspan font-size="20.59">ools scan</tspan></text>
<text x="505.78" y="857.70" font-size="22.38" font-weight="400" fill="#53585d" textLength="196.17" lengthAdjust="spacingAndGlyphs"  stroke="#53585d" stroke-width="0.3"><tspan font-size="22.38">F</tspan><tspan font-size="20.59">ile system activity</tspan></text>
<text x="507.67" y="886.40" font-size="22.38" font-weight="400" fill="#53585d" textLength="165.70" lengthAdjust="spacingAndGlyphs"  stroke="#53585d" stroke-width="0.3"><tspan font-size="22.38">V</tspan><tspan font-size="20.59"> </tspan><tspan font-size="22.38">T</tspan><tspan font-size="20.59">hreat hunter</tspan></text>
<text x="752.00" y="810.00" font-size="21.80" font-weight="400" fill="#53585d" textLength="61.40" lengthAdjust="spacingAndGlyphs"  stroke="#53585d" stroke-width="0.3"><tspan font-size="21.80">A</tspan><tspan font-size="20.06">lerts</tspan></text>
<rect x="1193.7" y="267.7" width="606.3" height="172.7" rx="24" fill="#fff" stroke="#f1984e" stroke-width="2.5"/>
<text x="1213.65" y="326.30" font-size="34.30" font-weight="700" fill="#ef8a33" textLength="545.75" lengthAdjust="spacingAndGlyphs" ><tspan font-size="34.30">!</tspan><tspan font-size="31.56"> </tspan><tspan font-size="34.30">S</tspan><tspan font-size="31.56">ensitive </tspan><tspan font-size="34.30">D</tspan><tspan font-size="31.56">ata </tspan><tspan font-size="34.30">E</tspan><tspan font-size="31.56">xfiltration </tspan><tspan font-size="34.30">A</tspan><tspan font-size="31.56">ttempt </tspan><tspan font-size="34.30">!</tspan></text>
<text x="1214.96" y="363.30" font-size="31.10" font-weight="400" fill="#53585d" textLength="451.87" lengthAdjust="spacingAndGlyphs"  stroke="#53585d" stroke-width="0.3"><tspan font-size="31.10">P</tspan><tspan font-size="28.62">olicy: “suspend these accesses”</tspan></text>
<text x="1214.97" y="399.50" font-size="31.10" font-weight="400" fill="#53585d" textLength="425.02" lengthAdjust="spacingAndGlyphs"  stroke="#53585d" stroke-width="0.3"><tspan font-size="31.10">P</tspan><tspan font-size="28.62">olicy: “</tspan><tspan font-size="31.10">I</tspan><tspan font-size="28.62">nspect </tspan><tspan font-size="31.10">T</tspan><tspan font-size="28.62">hese </tspan><tspan font-size="31.10">O</tspan><tspan font-size="28.62">bjects”</tspan></text>
<rect x="1193.7" y="460.8" width="606.3" height="170.3" rx="24" fill="#fff" stroke="#f1984e" stroke-width="2.5"/>
<text x="1213.66" y="517.40" font-size="32.70" font-weight="700" fill="#ef8a33" textLength="363.33" lengthAdjust="spacingAndGlyphs" ><tspan font-size="32.70">!</tspan><tspan font-size="30.09"> </tspan><tspan font-size="32.70">R</tspan><tspan font-size="30.09">ansomware detected </tspan><tspan font-size="32.70">!</tspan></text>
<text x="1214.85" y="554.80" font-size="31.10" font-weight="400" fill="#53585d" textLength="528.84" lengthAdjust="spacingAndGlyphs"  stroke="#53585d" stroke-width="0.3"><tspan font-size="31.10">P</tspan><tspan font-size="28.62">re-tested, automated clean recovery</tspan></text>
<text x="1215.57" y="591.80" font-size="31.10" font-weight="400" fill="#53585d" textLength="258.17" lengthAdjust="spacingAndGlyphs"  stroke="#53585d" stroke-width="0.3"><tspan font-size="28.62">processes in place</tspan></text>
<polyline points="1193.7,355.6 1143.0,355.6 1143.0,556.7 1096.0,556.7" fill="none" stroke="#f0994f" stroke-width="2.2"/>
<polyline points="1103.0,548.7 1095.0,556.7 1103.0,564.7" fill="none" stroke="#f0994f" stroke-width="2.2" stroke-linejoin="miter"/>
<polyline points="1193.7,546.3 1166.1,546.3 1166.1,602.0 1096.0,602.0" fill="none" stroke="#f0994f" stroke-width="2.2"/>
<polyline points="1103.0,594.0 1095.0,602.0 1103.0,610.0" fill="none" stroke="#f0994f" stroke-width="2.2" stroke-linejoin="miter"/>
<rect x="1193.3" y="652.7" width="607.4" height="177.3" rx="26" fill="#fff" stroke="#52c886" stroke-width="2.5"/>
<polyline points="1500.0,631.5 1500.0,652.0" fill="none" stroke="#6acf97" stroke-width="2.2"/>
<text x="1396.69" y="686.70" font-size="23.26" font-weight="700" fill="#3f454b" textLength="203.76" lengthAdjust="spacingAndGlyphs" ><tspan font-size="23.26">I</tspan><tspan font-size="21.40">ncident response:</tspan></text>
<circle cx="1265.7" cy="738.3" r="12.6" fill="none" stroke="#1ec85a" stroke-width="4.9"/><circle cx="1265.7" cy="738.3" r="3.9" fill="#1ec85a"/>
<path d="M1265.7,724 L1265.7,720 M1256,728 Q1251,723 1251,713.8 M1275.4,728 Q1280.4,723 1280.4,713.8 M1252.5,738.8 L1244.2,738.8 L1244.2,743.5 M1279,738.8 L1287.3,738.8 L1287.3,743.5 M1253,748.5 L1251,757.8 M1278.4,748.5 L1280.4,757.8" fill="none" stroke="#1ec85a" stroke-width="4.6" stroke-linecap="round" stroke-linejoin="round"/>
<path d="M1389.2,745 L1389.2,729.5 A8.5,8.5 0 0 1 1397.7,721 L1401.5,721 M1428,728.3 L1428,745.5 A8.5,8.5 0 0 1 1419.5,754 L1416,754 M1401.5,737.2 L1406.4,741.7 L1415.8,732.8" fill="none" stroke="#1ec85a" stroke-width="4.8" stroke-linecap="round" stroke-linejoin="round"/>
<polygon points="1400.5,716.2 1408.3,720.9 1400.5,725.6" fill="#1ec85a" stroke="#1ec85a" stroke-width="1.5" stroke-linejoin="round"/><polygon points="1416.5,749.3 1409,754 1416.5,758.7" fill="#1ec85a" stroke="#1ec85a" stroke-width="1.5" stroke-linejoin="round"/>
<circle cx="1567.8" cy="737" r="5" fill="none" stroke="#1ec85a" stroke-width="4.4"/><path d="M1557.3,758.5 Q1557.3,748.5 1567.8,748.5 Q1578.3,748.5 1578.3,758.5" fill="none" stroke="#1ec85a" stroke-width="4.8" stroke-linecap="round"/>
<path d="M1596.3,720.8 Q1594.5,717.3 1590.8,717.3 Q1586.2,717.3 1586.2,721.3 Q1586.2,724.6 1591,726.2 Q1596.2,728 1596.2,731.8 Q1596.2,736.3 1590.8,736.3 Q1586.6,736.3 1585,732.8 M1590.8,714.6 L1590.8,717.5 M1590.8,736 L1590.8,739.3" fill="none" stroke="#1ec85a" stroke-width="4.4" stroke-linecap="round" stroke-linejoin="round"/>
<path d="M1685,728.3 L1685,724 Q1685,716.9 1692,716.9 L1696.1,716.9 M1714.4,716.9 L1719,716.9 Q1726.1,716.9 1726.1,724 L1726.1,728.3 M1726.1,745.8 L1726.1,750.8 Q1726.1,757.8 1719,757.8 L1714.4,757.8 M1696.1,757.8 L1692,757.8 Q1685,757.8 1685,750.8 L1685,745.8" fill="none" stroke="#1ec85a" stroke-width="4.6" stroke-linecap="round"/>
<circle cx="1705.3" cy="732.8" r="5" fill="none" stroke="#1ec85a" stroke-width="4.6"/><path d="M1702.8,737 L1702.8,749 L1710,749 L1710,745.5 L1708,743.5 L1708,737 Z" fill="#1ec85a"/>
<text x="1231.70" y="783.30" font-size="19.33" font-weight="400" fill="#4b5258" textLength="73.21" lengthAdjust="spacingAndGlyphs"  stroke="#4b5258" stroke-width="0.3"><tspan font-size="19.33">A</tspan><tspan font-size="17.78">nalyze</tspan></text>
<text x="1232.13" y="808.30" font-size="19.33" font-weight="400" fill="#4b5258" textLength="70.73" lengthAdjust="spacingAndGlyphs"  stroke="#4b5258" stroke-width="0.3"><tspan font-size="17.78">(</tspan><tspan font-size="19.33">R</tspan><tspan font-size="17.78">econ)</tspan></text>
<text x="1337.49" y="783.30" font-size="19.33" font-weight="400" fill="#4b5258" textLength="157.66" lengthAdjust="spacingAndGlyphs"  stroke="#4b5258" stroke-width="0.3"><tspan font-size="19.33">R</tspan><tspan font-size="17.78">ecover/</tspan><tspan font-size="19.33">D</tspan><tspan font-size="17.78">ecrypt</tspan></text>
<text x="1528.11" y="783.30" font-size="19.33" font-weight="400" fill="#4b5258" textLength="94.56" lengthAdjust="spacingAndGlyphs"  stroke="#4b5258" stroke-width="0.3"><tspan font-size="19.33">N</tspan><tspan font-size="17.78">egotiate</tspan></text>
<text x="1650.68" y="783.30" font-size="19.33" font-weight="400" fill="#4b5258" textLength="111.85" lengthAdjust="spacingAndGlyphs"  stroke="#4b5258" stroke-width="0.3"><tspan font-size="19.33">S</tspan><tspan font-size="17.78">ettlements</tspan></text>
<text x="1607.23" y="813.50" font-size="13.37" font-weight="400" fill="#a0a5aa" textLength="72.76" lengthAdjust="spacingAndGlyphs" ><tspan font-size="12.30">if required</tspan></text>
<path d="M1523.3,810.7 L1583.3,810.7 M1704,810.7 L1764,810.7" stroke="#8d9297" stroke-width="1.6"/>
<polyline points="1500.0,830.5 1500.0,947.0 254.0,947.0 254.0,913.0" fill="none" stroke="#6acf97" stroke-width="2.2"/>
<polyline points="246.5,919.5 254.0,912.0 261.5,919.5" fill="none" stroke="#6acf97" stroke-width="2.2" stroke-linejoin="miter"/>
<polyline points="1471.8,923.3 1332.0,923.3" fill="none" stroke="#6acf97" stroke-width="2.2"/>
<polyline points="1338.0,916.3 1331.0,923.3 1338.0,930.3" fill="none" stroke="#6acf97" stroke-width="2.2" stroke-linejoin="miter"/>
<text x="746.31" y="933.40" font-size="35.47" font-weight="700" fill="#21c46a" textLength="582.62" lengthAdjust="spacingAndGlyphs" ><tspan font-size="35.47">O</tspan><tspan font-size="32.63">rchestrate </tspan><tspan font-size="35.47">R</tspan><tspan font-size="32.63">apid, </tspan><tspan font-size="35.47">C</tspan><tspan font-size="32.63">lean </tspan><tspan font-size="35.47">R</tspan><tspan font-size="32.63">ecovery</tspan></text>
<path d="M1768,1026 L1841,1026 L1841,1042 Q1841,1049 1834,1049 L1761.5,1049 L1761.5,1033 Q1761.5,1026 1768,1026 Z" fill="#00c45a"/>
<text x="1766.18" y="1043.40" font-size="22.73" font-weight="400" fill="#b4f7cd" textLength="69.64" lengthAdjust="spacingAndGlyphs" stroke="#b4f7cd" stroke-width="1.1">veeam</text>
</svg></body></html>
